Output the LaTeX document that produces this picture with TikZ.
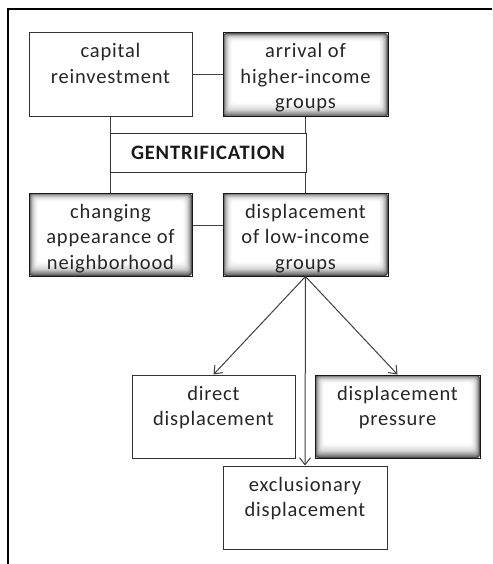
\documentclass[tikz,border=0pt]{standalone}
\usepackage{fontspec}
\setmainfont[LetterSpace=4]{Carlito}
\usetikzlibrary{arrows.meta,calc}
\newcommand\bxt[3]{\parbox[c][#2][t]{#1}{\centering\rule{0pt}{25pt}#3}}
\tikzset{
  box/.style={draw=black!80, line width=1pt, inner sep=0pt, fill=white,
    font=\fontsize{20.5}{25.5}\selectfont, text=black!85},
  glow/.style={draw=black!90, path picture={
    \foreach \c [count=\i from 0] in {70,55,43,34,26,20,15,11,8,5,3,1,0}{
      \fill[black!\c, rounded corners=3pt]
        ($(path picture bounding box.south west)+(\i*0.75pt,\i*1.2pt)$) rectangle
        ($(path picture bounding box.north east)+(-\i*0.75pt,-\i*0.7pt)$);
    }}},
  link/.style={draw=black!75, line width=1pt},
  arr/.style={link, -{Straight Barb[length=7pt,width=11pt]}}
}
\begin{document}
\begin{tikzpicture}[x=1pt,y=-1pt]
\useasboundingbox (0,0) rectangle (492,564);
\draw[line width=2pt] (7.5,564) -- (7.5,9) -- (492,9);

\node[box] (cap) at (110.5,75) {\bxt{163pt}{84pt}{capital\\reinvestment}};
\node[box,glow] (arv) at (305.5,75) {\bxt{165pt}{84pt}{arrival of\\higher-income\\groups}};
\node[box,glow] (chg) at (110.5,234.5) {\bxt{163pt}{83pt}{changing\\appearance of\\neighborhood}};
\node[box,glow] (dsp) at (305.5,234.5) {\bxt{165pt}{83pt}{displacement\\of low-income\\groups}};

\draw[link] (cap.east) -- (arv.west);
\draw[link] ([yshift=9.5pt]chg.east) -- ([yshift=9.5pt]dsp.west);
\draw[link] (cap.south) -- (chg.north);
\draw[link] (arv.south) -- (dsp.north);

\node[box, minimum width=196pt, minimum height=38pt, font=\fontsize{20.5}{24}\selectfont\bfseries, text=black!90] (gen) at (208,153) {GENTRIFICATION};

\node[box] (dir) at (213.5,416.5) {\bxt{163pt}{83pt}{direct\\displacement}};
\node[box,glow] (prs) at (397.5,416.5) {\bxt{165pt}{83pt}{displacement\\pressure}};
\node[box] (exc) at (305,507.5) {\bxt{164pt}{83pt}{exclusionary\\displacement}};

\draw[arr] (dsp.south) -- (dir.north);
\draw[arr] (dsp.south) -- (prs.north);
\draw[arr] (dsp.south) -- (exc.north);
\end{tikzpicture}
\end{document}
